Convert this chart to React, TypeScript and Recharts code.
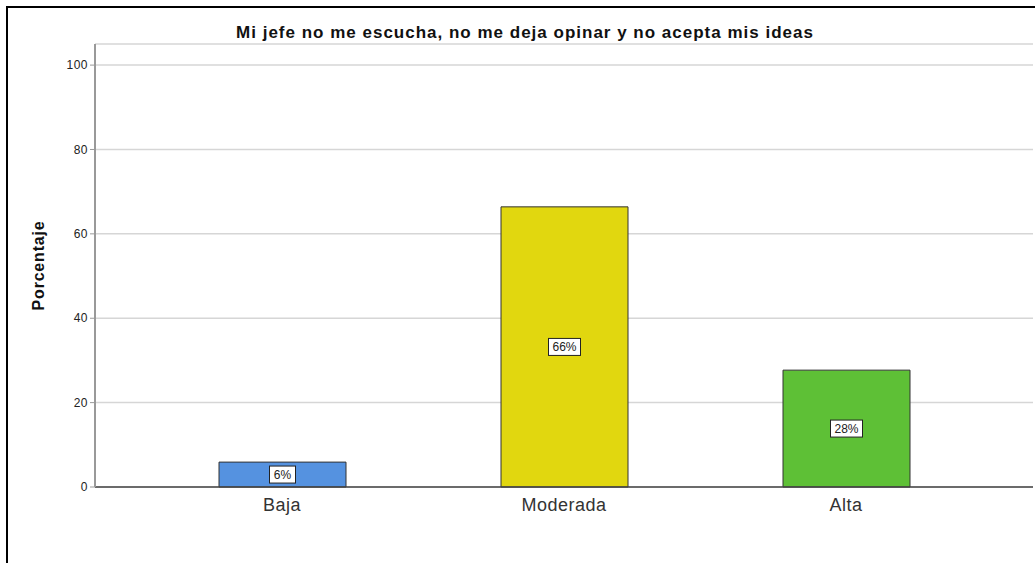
import { BarChart, Bar, XAxis, YAxis, CartesianGrid, Cell, LabelList } from "recharts"

const categories = ["Baja", "Moderada", "Alta"]
const percentages = [5.9, 66.4, 27.7]
const percentLabels = ["6%", "66%", "28%"]
const barColors = ["#5592e0", "#e1d70f", "#5ec036"]
const yTicks = [0, 20, 40, 60, 80, 100]

const chartData = categories.map((name, i) => ({
  name,
  value: percentages[i],
  label: percentLabels[i],
}))

const FONT = "'Liberation Sans', Arial, sans-serif"

function BoxLabel(props: any) {
  const { x, y, width, height, value } = props
  const cx = x + width / 2
  const cy = y + height / 2
  const w = value.length > 2 ? 32 : 26
  return (
    <g>
      <rect x={cx - w / 2} y={cy - 8.5} width={w} height={17} fill="#fff" stroke="#222" strokeWidth={1} />
      <text x={cx} y={cy + 4.5} textAnchor="middle" fontSize={12} fill="#222" fontFamily={FONT}>
        {value}
      </text>
    </g>
  )
}

export default function App() {
  return (
    <div style={{ position: "absolute", left: 0, top: 0, width: 1035, height: 563, background: "#fff", overflow: "hidden" }}>
      <div
        style={{
          position: "absolute",
          left: 6,
          top: 6,
          width: 1040,
          height: 570,
          borderLeft: "2px solid #000",
          borderTop: "2px solid #000",
        }}
      />
      <div
        style={{
          position: "absolute",
          left: 0,
          top: 23,
          width: 1050,
          textAlign: "center",
          fontFamily: FONT,
          fontWeight: "bold",
          fontSize: 17,
          letterSpacing: 1,
          color: "#111",
        }}
      >
        Mi jefe no me escucha, no me deja opinar y no acepta mis ideas
      </div>
      <div style={{ position: "absolute", left: 0, top: 0 }}>
        <BarChart width={1033} height={563} data={chartData} margin={{ top: 44, right: 0, bottom: 46, left: 0 }}>
          <CartesianGrid vertical={false} stroke="#d6d6d6" strokeWidth={1.5} />
          <XAxis
            dataKey="name"
            padding={{ left: 46, right: 46 }}
            axisLine={{ stroke: "#444", strokeWidth: 1.5 }}
            tickLine={false}
            tick={{ fontSize: 18, fill: "#333", fontFamily: FONT, letterSpacing: 0.5 }}
            tickMargin={5}
          />
          <YAxis
            width={95}
            domain={[0, 105]}
            ticks={yTicks}
            interval={0}
            axisLine={{ stroke: "#999", strokeWidth: 2 }}
            tickLine={{ stroke: "#999" }}
            tickSize={5}
            tick={{ fontSize: 12, fill: "#222", fontFamily: FONT, letterSpacing: 0.5 }}
            label={{
              value: "Porcentaje",
              angle: -90,
              position: "insideLeft",
              offset: 38,
              style: { fontSize: 16, fontWeight: "bold", fill: "#111", fontFamily: FONT, textAnchor: "middle", letterSpacing: 0.8 },
            }}
          />
          <Bar dataKey="value" barSize={127} stroke="#333" strokeWidth={1} isAnimationActive={false}>
            {chartData.map((d, i) => (
              <Cell key={d.name} fill={barColors[i]} />
            ))}
            <LabelList dataKey="label" content={BoxLabel} />
          </Bar>
        </BarChart>
      </div>
    </div>
  )
}
